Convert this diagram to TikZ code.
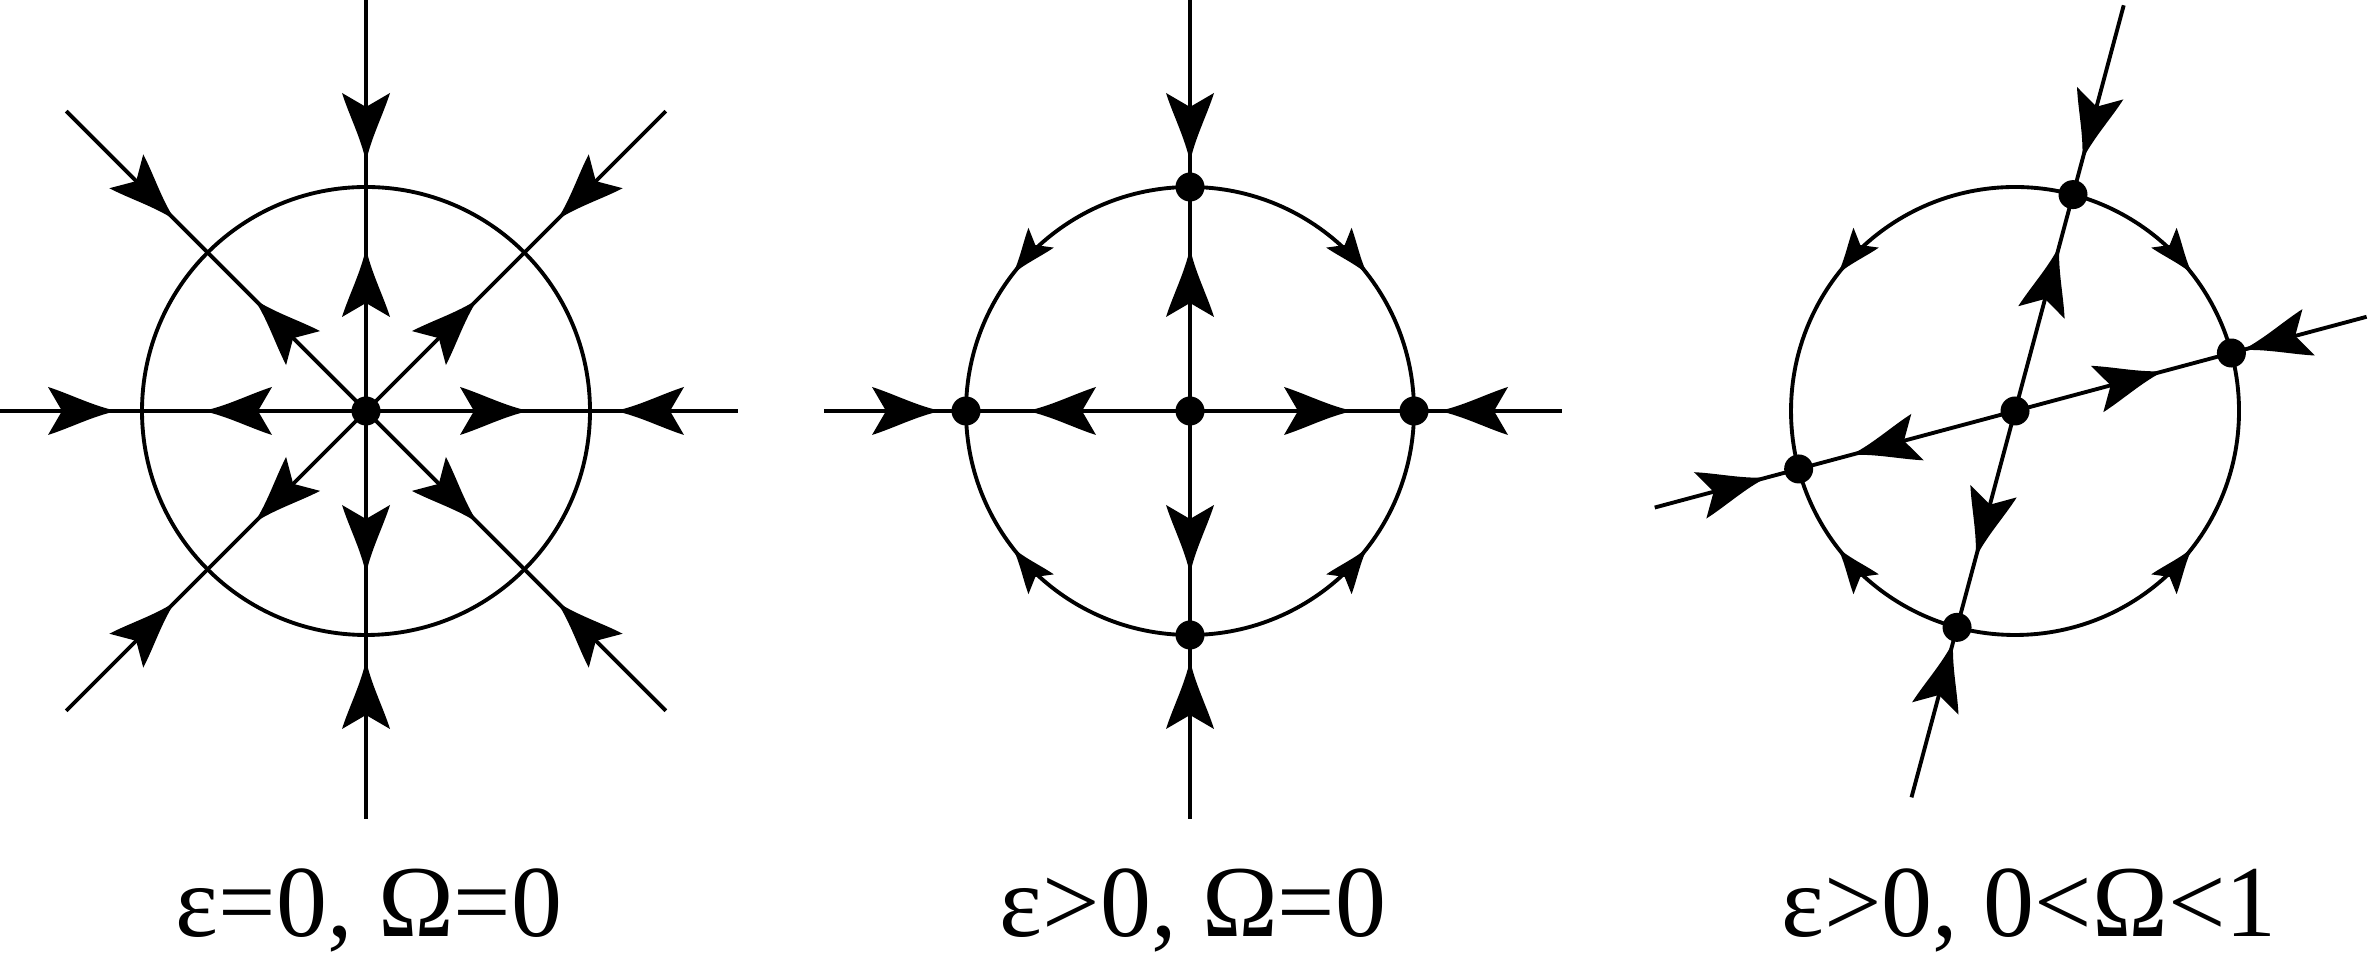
\documentclass[tikz,border=0pt]{standalone}
\usepackage{fontspec}
\setmainfont{Liberation Serif}
\tikzset{
  flowhead/.pic={\fill (0.02,0) .. controls (-0.22,0.05) and (-0.45,0.17) .. (-0.67,0.24) -- (-0.53,0) -- (-0.67,-0.24) .. controls (-0.45,-0.17) and (-0.22,-0.05) .. (0.02,0) -- cycle;},
  fixpt/.style={circle,fill=black,inner sep=0pt,minimum size=0.29cm},
  caption/.style={anchor=base,inner sep=0pt,font=\fontsize{29}{34}\selectfont}
}
\begin{document}
\begin{tikzpicture}[line width=1.1pt]
  \useasboundingbox (0,0) rectangle (23.71,9.59);
  \coordinate (c1) at (3.66,5.48);
  \coordinate (c2) at (11.90,5.48);
  \coordinate (c3) at (20.15,5.48);
  % eps=0, Omega=0
  \draw (c1) circle (2.24);
  \foreach \t/\l/\a/\b in {0/3.72/1.61/2.51, 45/4.24/1.56/2.72, 90/4.11/1.61/2.51, 135/4.24/1.56/2.72,
      180/3.66/1.61/2.51, 225/4.24/1.56/2.72, 270/4.08/1.61/2.51, 315/4.24/1.56/2.72} {
    \path (c1) ++(\t:\l) coordinate (r1-\t);
    \draw (c1) -- (r1-\t);
    \path (c1) ++(\t:\a) pic[rotate=\t] {flowhead};
    \path (c1) ++(\t:\b) pic[rotate=\t+180] {flowhead};
  }
  \node[fixpt] (o1) at (c1) {};
  % eps>0, Omega=0
  \draw (c2) circle (2.24);
  \foreach \t/\l in {0/3.72, 90/4.11, 180/3.66, 270/4.08} {
    \path (c2) ++(\t:\l) coordinate (r2-\t);
    \draw (c2) -- (r2-\t);
    \path (c2) ++(\t:1.61) pic[rotate=\t] {flowhead};
    \path (c2) ++(\t:2.51) pic[rotate=\t+180] {flowhead};
  }
  \foreach \t/\d in {38/-90, 142/90, 218/-90, 322/90}
    \path (c2) ++(\t:2.24) pic[rotate=\t+\d,scale=0.67] {flowhead};
  \foreach \t in {0,90,180,270}
    \path (c2) ++(\t:2.24) node[fixpt] (s2-\t) {};
  \node[fixpt] (o2) at (c2) {};
  % eps>0, 0<Omega<1
  \draw (c3) circle (2.24);
  \foreach \t/\l/\a/\b in {15/3.64/1.52/2.37, 75/4.20/1.69/2.62, 195/3.73/1.68/2.59, 255/4.00/1.50/2.41} {
    \path (c3) ++(\t:\l) coordinate (r3-\t);
    \draw (c3) -- (r3-\t);
    \path (c3) ++(\t:\a) pic[rotate=\t] {flowhead};
    \path (c3) ++(\t:\b) pic[rotate=\t+180] {flowhead};
  }
  \foreach \t/\d in {38/-90, 142/90, 218/-90, 322/90}
    \path (c3) ++(\t:2.24) pic[rotate=\t+\d,scale=0.67] {flowhead};
  \foreach \t in {15,75,195,255}
    \path (c3) ++(\t:2.24) node[fixpt] (s3-\t) {};
  \node[fixpt] (o3) at (c3) {};
  \node[caption] (t1) at (3.69,0.22) {ε=0, Ω=0};
  \node[caption] (t2) at (11.93,0.22) {ε>0, Ω=0};
  \node[caption] (t3) at (20.29,0.22) {ε>0, 0<Ω<1};
\end{tikzpicture}
\end{document}
